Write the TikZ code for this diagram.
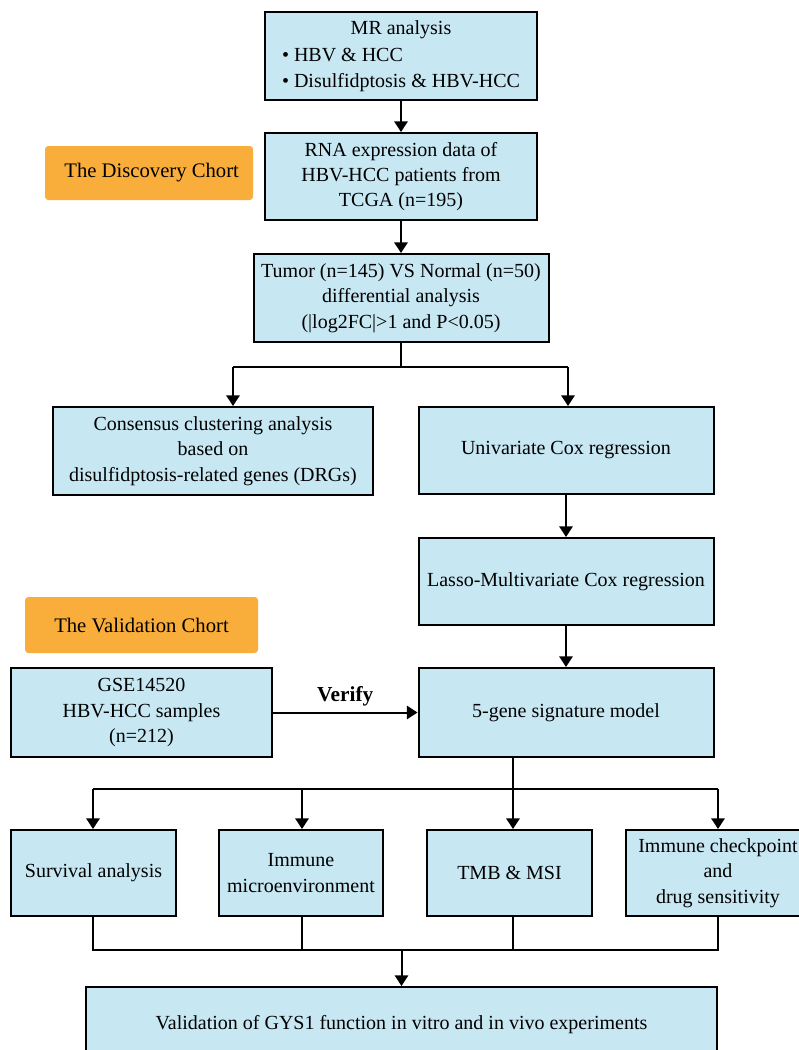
\documentclass[tikz,border=0pt]{standalone}
\usepackage{fontspec}
\setmainfont{Liberation Serif}
\usetikzlibrary{arrows.meta}
\definecolor{boxblue}{HTML}{C7E7F3}
\definecolor{tagorange}{HTML}{F9AE3B}
\tikzset{
  box/.style={draw=black, line width=1.5pt, fill=boxblue, align=center, inner sep=2pt,
    font=\fontsize{15}{19}\selectfont},
  tag/.style={fill=tagorange, rounded corners=2.5pt, align=center,
    font=\fontsize{15.5}{19}\selectfont},
  conn/.style={line width=1.5pt, draw=black},
  arr/.style={conn, -{Triangle[width=10pt,length=8pt]}},
}
\begin{document}
\begin{tikzpicture}[x=0.75pt,y=-0.75pt]
\useasboundingbox (0,0) rectangle (799,1050);
\clip (0,0) rectangle (799,1050);
\fill[white] (0,0) rectangle (799,1050);

% boxes
\node[box, minimum width=204pt, minimum height=66pt] (mr) at (401,56)
  {\begin{tabular}{@{}l@{}}\multicolumn{1}{@{}c@{}}{MR analysis}\\[0.6pt] • HBV \& HCC\\[0.6pt] • Disulfidptosis \& HBV-HCC\end{tabular}};
\node[box, minimum width=204pt, minimum height=65.25pt] (rna) at (401,176.5)
  {RNA expression data of\\HBV-HCC patients from\\TCGA (n=195)};
\node[tag, minimum width=156pt, minimum height=40.5pt] (disc) at (149,173) {\hspace{4pt}The Discovery Chort};
\node[box, minimum width=221.25pt, minimum height=66pt] (tumor) at (401,298)
  {Tumor (n=145) VS Normal (n=50)\\differential analysis\\(|log2FC|>1 and P<0.05)};
\node[box, minimum width=240pt, minimum height=66pt] (cons) at (213,451)
  {Consensus clustering analysis\\based on\\disulfidptosis-related genes (DRGs)};
\node[box, minimum width=221.25pt, minimum height=65.25pt] (uni) at (566,450.5)
  {Univariate Cox regression};
\node[box, minimum width=221.25pt, minimum height=65.25pt] (lasso) at (566,581.5)
  {Lasso-Multivariate Cox regression};
\node[tag, minimum width=174.75pt, minimum height=42pt] (val) at (141.5,625) {The Validation Chort};
\node[box, minimum width=195.75pt, minimum height=66.75pt] (gse) at (141.5,712.5)
  {GSE14520\\HBV-HCC samples\\(n=212)};
\node[box, minimum width=221.25pt, minimum height=66.75pt] (five) at (566,712.5)
  {5-gene signature model};
\node[box, minimum width=123.75pt, minimum height=64.5pt] (surv) at (93.5,873)
  {Survival analysis};
\node[box, minimum width=123pt, minimum height=64.5pt] (imm) at (301,873)
  {Immune\\microenvironment};
\node[box, minimum width=123.75pt, minimum height=64.5pt] (tmb) at (509.5,873)
  {TMB \& MSI};
\node[box, minimum width=138pt, minimum height=64.5pt] (chk) at (718,873)
  {Immune checkpoint\\and\\drug sensitivity};
\node[box, minimum width=473.25pt, minimum height=57pt] (bot) at (401.5,1025)
  {Validation of GYS1 function in vitro and in vivo experiments};

% coordinates
\coordinate (bl) at (233,367);
\coordinate (br) at (568,367);
\coordinate (b2) at (513,789);
\coordinate (r1) at (93,789);
\coordinate (r2) at (302,789);
\coordinate (r4) at (718,789);
\coordinate (m1) at (93,950);
\coordinate (m4) at (718,950);

% connectors
\draw[arr] (mr) -- (rna);
\draw[arr] (rna) -- (tumor);
\draw[conn] (tumor.south) -- (tumor.south |- bl);
\draw[conn] (bl) -- (br);
\draw[arr] (bl) -- (bl |- cons.north);
\draw[arr] (br) -- (br |- uni.north);
\draw[arr] (uni) -- (lasso);
\draw[arr] (lasso) -- (five);
\draw[arr] (gse) -- node[above, font=\bfseries\fontsize{16}{19}\selectfont, yshift=1pt] (verify) {Verify} (five);
\draw[conn] (five.south -| b2) -- (b2);
\draw[conn] (r1) -- (r4);
\draw[arr] (r1) -- (r1 |- surv.north);
\draw[arr] (r2) -- (r2 |- imm.north);
\draw[arr] (b2) -- (b2 |- tmb.north);
\draw[arr] (r4) -- (r4 |- chk.north);
\draw[conn] (surv.south -| m1) -- (m1) -- (m4) -- (chk.south -| m4);
\draw[conn] (imm.south -| r2) -- (r2 |- m1);
\draw[conn] (tmb.south -| b2) -- (b2 |- m1);
\draw[arr] (bot.north |- m1) -- (bot.north);
\end{tikzpicture}
\end{document}
